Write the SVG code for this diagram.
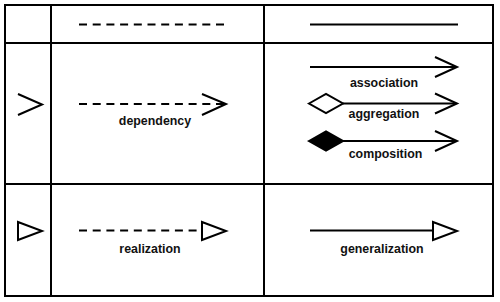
<svg xmlns="http://www.w3.org/2000/svg" width="500" height="302" viewBox="0 0 500 302">
<style>
.ln{fill:none;stroke:#000;stroke-width:2}
.dash{stroke-dasharray:8 5.7}
.open{fill:#fff;stroke:#000;stroke-width:2;stroke-linejoin:miter}
.solid{fill:#000;stroke:#000;stroke-width:2}
.lbl{font-family:"Liberation Sans",Arial,sans-serif;font-weight:bold;font-size:12.4px;fill:#111;text-anchor:middle}
</style>
<rect width="500" height="302" fill="#fff"/>
<g id="table">
<rect class="ln" x="5" y="5" width="488" height="291"/>
<line class="ln" x1="51" y1="5" x2="51" y2="296"/>
<line class="ln" x1="264" y1="5" x2="264" y2="296"/>
<line class="ln" x1="5" y1="43" x2="493" y2="43"/>
<line class="ln" x1="5" y1="184" x2="493" y2="184"/>
</g>
<g id="header-dashed"><line class="ln dash" x1="79" y1="24.5" x2="225" y2="24.5"/></g>
<g id="header-solid"><line class="ln" x1="310" y1="24.5" x2="458" y2="24.5"/></g>
<g id="symbol-open-arrow"><polyline class="ln" points="18,94 42,104.5 18,115"/></g>
<g id="symbol-triangle"><polygon class="open" points="18,222 42,231 18,240"/></g>
<g id="connectors">
<g id="dependency">
<line class="ln dash" x1="79" y1="104" x2="224" y2="104"/>
<polyline class="ln" points="202,94 226,104 202,115"/>
<text class="lbl" x="155" y="125">dependency</text>
</g>
<g id="association">
<line class="ln" x1="310" y1="67" x2="456" y2="67"/>
<polyline class="ln" points="435,57 457,67 435,77"/>
<text class="lbl" x="384" y="87.3">association</text>
</g>
<g id="aggregation">
<polygon class="open" points="309,103.5 326,94 343,103.5 326,113"/>
<line class="ln" x1="343" y1="103.5" x2="456" y2="103.5"/>
<polyline class="ln" points="435,93.5 457,103.5 435,113.5"/>
<text class="lbl" x="384" y="118.3">aggregation</text>
</g>
<g id="composition">
<polygon class="solid" points="309,141 326,131.5 343,141 326,150.5"/>
<line class="ln" x1="343" y1="141" x2="456" y2="141"/>
<polyline class="ln" points="435,131 457,141 435,151"/>
<text class="lbl" x="385.5" y="158.3">composition</text>
</g>
<g id="realization">
<line class="ln dash" x1="79" y1="230.5" x2="202" y2="230.5"/>
<polygon class="open" points="202,222 226,231 202,240"/>
<text class="lbl" x="150" y="253">realization</text>
</g>
<g id="generalization">
<line class="ln" x1="310" y1="230.5" x2="433" y2="230.5"/>
<polygon class="open" points="433,222 457,231 433,240"/>
<text class="lbl" x="382" y="253">generalization</text>
</g>
</g>
</svg>
